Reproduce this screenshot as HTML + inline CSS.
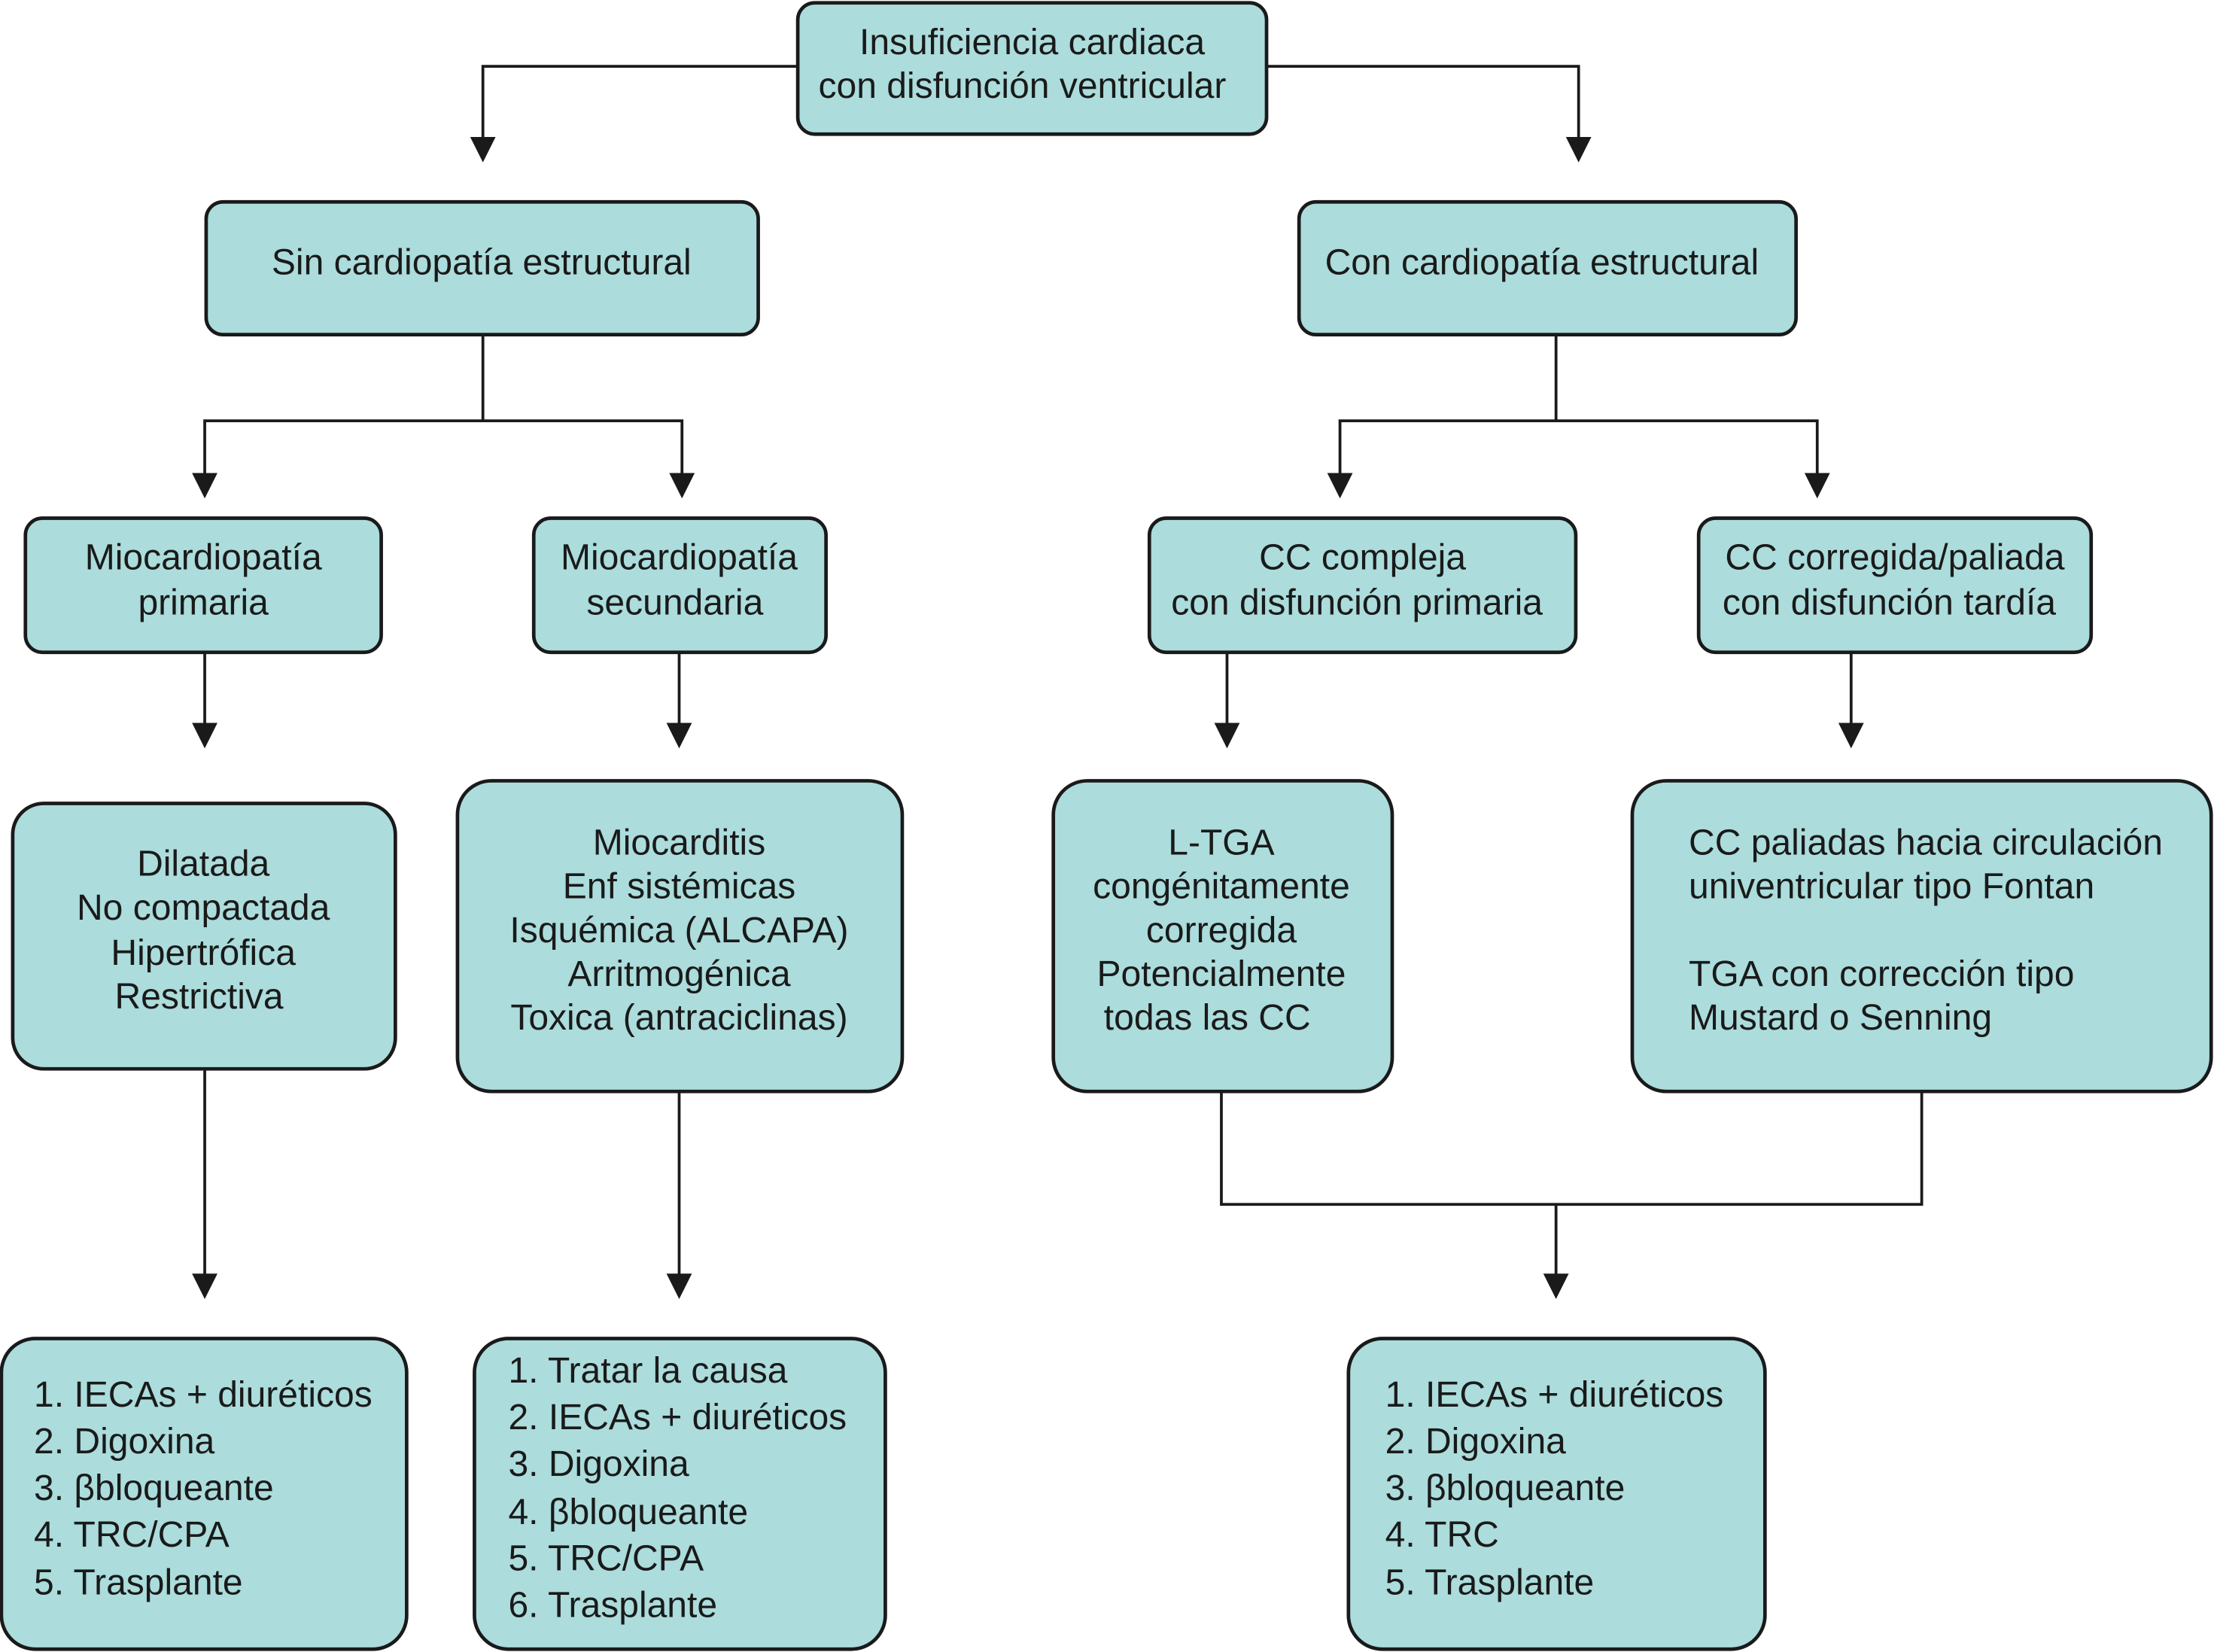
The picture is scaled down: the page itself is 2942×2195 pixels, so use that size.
<!DOCTYPE html>
<html><head><meta charset="utf-8"><style>
html,body{margin:0;padding:0;background:#fff;}
svg{display:block;}
text{font-family:"Liberation Sans",Arial,sans-serif;font-size:25.6px;fill:#1a1a1a;dominant-baseline:central;}
.b{fill:#acdcdc;stroke:#1a1a1a;stroke-width:2.5;}
.l{stroke:#1a1a1a;stroke-width:2;fill:none;}
.c{text-anchor:middle;}
</style></head><body>
<svg width="2942" height="2195" viewBox="0 0 1568 1170" preserveAspectRatio="none">
<path class="l" d="M565,47 H342 V98"/>
<path d="M333,97 L351,97 L342,115z" fill="#1a1a1a"/>
<path class="l" d="M897,47 H1118 V98"/>
<path d="M1109,97 L1127,97 L1118,115z" fill="#1a1a1a"/>
<path class="l" d="M342,237 V298 M145,336 V298 H483 V336"/>
<path d="M136,335 L154,335 L145,353z M474,335 L492,335 L483,353z" fill="#1a1a1a"/>
<path class="l" d="M1102,237 V298 M949,336 V298 H1287 V336"/>
<path d="M940,335 L958,335 L949,353z M1278,335 L1296,335 L1287,353z" fill="#1a1a1a"/>
<path class="l" d="M145,462 V513 M481,462 V513 M869,462 V513 M1311,462 V513"/>
<path d="M136,512 L154,512 L145,530z M472,512 L490,512 L481,530z M860,512 L878,512 L869,530z M1302,512 L1320,512 L1311,530z" fill="#1a1a1a"/>
<path class="l" d="M145,757 V903 M481,773 V903 M865,773 V853 H1361 V773 M1102,853 V903"/>
<path d="M136,902 L154,902 L145,920z M472,902 L490,902 L481,920z M1093,902 L1111,902 L1102,920z" fill="#1a1a1a"/>
<rect class="b" x="565" y="2" width="332" height="93" rx="12"/>
<text class="c" x="731" y="30">Insuficiencia cardiaca</text>
<text class="c" x="724" y="61">con disfunción ventricular</text>
<rect class="b" x="146" y="143" width="391" height="94" rx="12"/>
<text class="c" x="341" y="186">Sin cardiopatía estructural</text>
<rect class="b" x="920" y="143" width="352" height="94" rx="12"/>
<text class="c" x="1092" y="186">Con cardiopatía estructural</text>
<rect class="b" x="18" y="367" width="252" height="95" rx="12"/>
<text class="c" x="144" y="395">Miocardiopatía</text><text class="c" x="144" y="427">primaria</text>
<rect class="b" x="378" y="367" width="207" height="95" rx="12"/>
<text class="c" x="481" y="395">Miocardiopatía</text><text class="c" x="478" y="427">secundaria</text>
<rect class="b" x="814" y="367" width="302" height="95" rx="12"/>
<text class="c" x="965" y="395">CC compleja</text><text class="c" x="961" y="427">con disfunción primaria</text>
<rect class="b" x="1203" y="367" width="278" height="95" rx="12"/>
<text class="c" x="1342" y="395">CC corregida/paliada</text><text class="c" x="1338" y="427">con disfunción tardía</text>
<rect class="b" x="9" y="569" width="271" height="188" rx="22"/>
<text class="c" x="144" y="612">Dilatada</text><text class="c" x="144" y="643">No compactada</text><text class="c" x="144" y="675">Hipertrófica</text><text class="c" x="141" y="706">Restrictiva</text>
<rect class="b" x="324" y="553" width="315" height="220" rx="24"/>
<text class="c" x="481" y="597">Miocarditis</text><text class="c" x="481" y="628">Enf sistémicas</text><text class="c" x="481" y="659">Isquémica (ALCAPA)</text><text class="c" x="481" y="690">Arritmogénica</text><text class="c" x="481" y="721">Toxica (antraciclinas)</text>
<rect class="b" x="746" y="553" width="240" height="220" rx="24"/>
<text class="c" x="865" y="597">L-TGA</text><text class="c" x="865" y="628">congénitamente</text><text class="c" x="865" y="659">corregida</text><text class="c" x="865" y="690">Potencialmente</text><text class="c" x="855" y="721">todas las CC</text>
<rect class="b" x="1156" y="553" width="410" height="220" rx="24"/>
<text x="1196" y="597">CC paliadas hacia circulación</text><text x="1196" y="628">univentricular tipo Fontan</text><text x="1196" y="690">TGA con corrección tipo</text><text x="1196" y="721">Mustard o Senning</text>
<rect class="b" x="1" y="948" width="287" height="220" rx="24"/>
<text x="24" y="988">1. IECAs + diuréticos</text><text x="24" y="1021">2. Digoxina</text><text x="24" y="1054">3. βbloqueante</text><text x="24" y="1087">4. TRC/CPA</text><text x="24" y="1121">5. Trasplante</text>
<rect class="b" x="336" y="948" width="291" height="220" rx="24"/>
<text x="360" y="971">1. Tratar la causa</text><text x="360" y="1004">2. IECAs + diuréticos</text><text x="360" y="1037">3. Digoxina</text><text x="360" y="1071">4. βbloqueante</text><text x="360" y="1104">5. TRC/CPA</text><text x="360" y="1137">6. Trasplante</text>
<rect class="b" x="955" y="948" width="295" height="220" rx="24"/>
<text x="981" y="988">1. IECAs + diuréticos</text><text x="981" y="1021">2. Digoxina</text><text x="981" y="1054">3. βbloqueante</text><text x="981" y="1087">4. TRC</text><text x="981" y="1121">5. Trasplante</text>
</svg>
</body></html>
